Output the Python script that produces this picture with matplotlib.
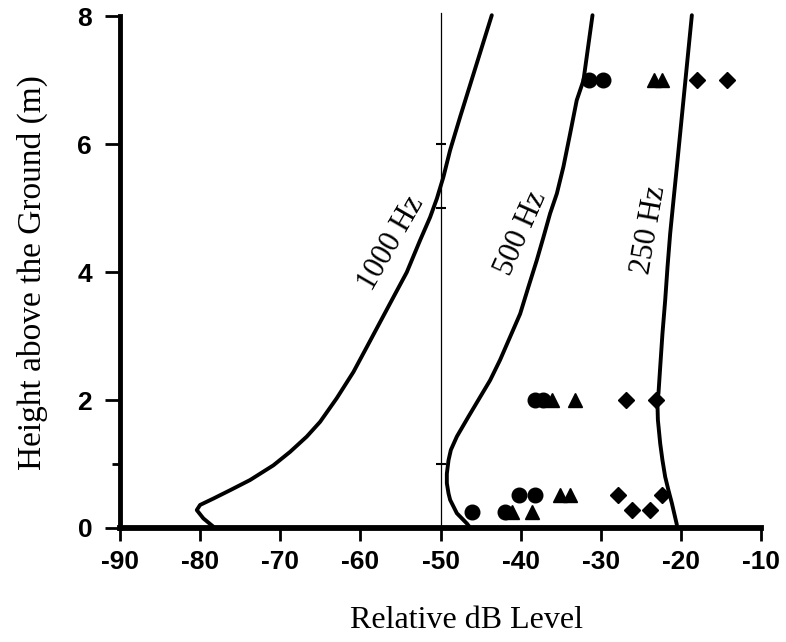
import matplotlib
matplotlib.use('Agg')
import matplotlib.pyplot as plt

# --- curve readings (dB, height m) ---
hz1000_db = [-78.35, -79.6, -80.42, -80.01, -78.35, -76.27, -73.77, -70.86, -68.78, -66.69, -65.03,
             -62.95, -60.87, -59.2, -57.54, -55.88, -54.21, -52.55, -51.3, -50.46, -49.64,
             -48.8, -47.55, -43.6]
hz1000_h = [0.02, 0.15, 0.28, 0.36, 0.46, 0.59, 0.75, 0.98, 1.19, 1.43, 1.66,
            2.03, 2.44, 2.83, 3.22, 3.61, 4.0, 4.5, 4.86, 5.15, 5.49,
            5.91, 6.43, 8.02]

hz500_db = [-46.4, -46.71, -47.96, -48.8, -49.0, -49.21, -49.21, -49.0, -48.71, -47.96, -46.52,
            -45.0, -43.81, -42.56, -41.31, -40.06, -39.03, -37.98, -37.15, -36.32, -35.48,
            -34.66, -33.82, -33.0, -32.16, -31.03]
hz500_h = [0.02, 0.07, 0.23, 0.44, 0.54, 0.7, 0.85, 1.06, 1.22, 1.43, 1.74,
           2.06, 2.31, 2.63, 2.99, 3.35, 3.77, 4.19, 4.55, 4.92, 5.23,
           5.65, 6.17, 6.69, 7.0, 8.02]

hz250_db = [-20.5, -21.13, -21.55, -21.96, -22.3, -22.58, -22.87, -22.95, -22.8, -22.58, -22.3,
            -21.96, -21.67, -21.34, -20.92, -20.5, -20.09, -19.68, -18.63]
hz250_h = [0.05, 0.39, 0.59, 0.8, 1.06, 1.32, 1.69, 2.05, 2.1, 2.52, 3.04,
           3.56, 4.08, 4.6, 5.13, 5.65, 6.17, 6.69, 8.02]

# --- measured points ---
circle_db = [-31.5, -29.7, -38.2, -37.15, -40.15, -38.2, -46.1, -41.9]
circle_h = [7.0, 7.0, 2.0, 2.0, 0.52, 0.52, 0.25, 0.25]
triangle_db = [-23.4, -22.4, -36.1, -33.2, -35.1, -33.8, -41.1, -38.6]
triangle_h = [7.0, 7.0, 2.0, 2.0, 0.52, 0.52, 0.25, 0.25]
diamond_db = [-18.0, -14.3, -26.8, -23.1, -27.9, -22.4, -26.1, -23.8]
diamond_h = [7.0, 7.0, 2.0, 2.0, 0.52, 0.52, 0.28, 0.28]

ref_db = -50
ref_marks = [1.0, 5.0, 6.0]

x_ticks = [-90, -80, -70, -60, -50, -40, -30, -20, -10]
y_ticks = [0, 2, 4, 6, 8]

fig = plt.figure(figsize=(7.86, 6.42), dpi=100)
ax = fig.add_axes([0.1527, 0.1776, 0.8155, 0.7967])

# thin reference line at -50 dB with small marks
ax.plot([ref_db, ref_db], [0, 8.05], color='black', linewidth=0.9, clip_on=False)
ax.plot([ref_db] * len(ref_marks), ref_marks, linestyle='none', marker='_',
        markersize=7, markeredgewidth=1.5, color='black')

for xs, ys in [(hz1000_db, hz1000_h), (hz500_db, hz500_h), (hz250_db, hz250_h)]:
    ax.plot(xs, ys, color='black', linewidth=2.8, solid_capstyle='round',
            solid_joinstyle='round', clip_on=False)

ax.plot(circle_db, circle_h, 'o', color='black', markersize=10.5, clip_on=False)
ax.plot(triangle_db, triangle_h, '^', color='black', markersize=10, clip_on=False)
ax.plot(diamond_db, diamond_h, 'D', color='black', markersize=8.3, clip_on=False)

serif = 'Liberation Serif'
ax.text(-56.1, 4.45, '1000 Hz', rotation=60, fontsize=22, family=serif,
        ha='center', va='center', rotation_mode='anchor')
ax.text(-39.9, 4.6, '500 Hz', rotation=66, fontsize=22, family=serif,
        ha='center', va='center', rotation_mode='anchor')
ax.text(-24.0, 4.66, '250 Hz', rotation=80, fontsize=22, family=serif,
        ha='center', va='center', rotation_mode='anchor')

ax.set_xlim(-90, -10)
ax.set_ylim(0, 8)
ax.set_xticks(x_ticks)
ax.set_xticklabels([str(v) for v in x_ticks])
ax.set_yticks(y_ticks)
ax.set_yticks([1], minor=True)

for s in ['top', 'right']:
    ax.spines[s].set_visible(False)
ax.spines['left'].set_linewidth(3.5)
ax.spines['bottom'].set_linewidth(4.2)

ax.tick_params(axis='x', length=9, width=2, pad=7, direction='out')
ax.tick_params(axis='y', which='major', length=11, width=2, pad=9, direction='out')
ax.tick_params(axis='y', which='minor', length=6, width=2, direction='out')
for lab in ax.get_xticklabels() + ax.get_yticklabels():
    lab.set_family('Liberation Sans')
    lab.set_fontweight('bold')
    lab.set_fontsize(19)

ax.set_xlabel('Relative dB Level', family=serif, fontsize=23)
ax.set_ylabel('Height above the Ground (m)', family=serif, fontsize=24)
ax.xaxis.set_label_coords(0.541, -0.152)
ax.yaxis.set_label_coords(-0.112, 0.5)

fig.savefig('out.png', dpi=100)
